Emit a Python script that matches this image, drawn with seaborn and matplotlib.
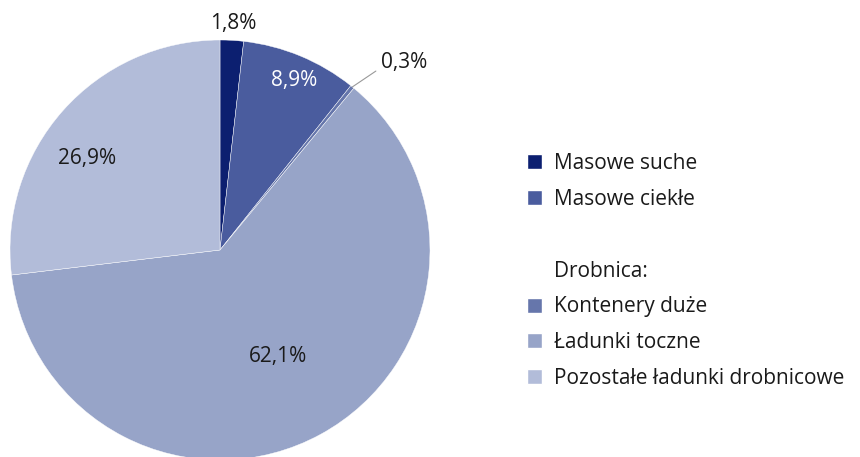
import numpy as np
import matplotlib.pyplot as plt
import seaborn as sns
from matplotlib.patches import Patch

# data
kategorie = ["Masowe suche", "Masowe ciekłe", "Kontenery duże", "Ładunki toczne",
             "Pozostałe ładunki drobnicowe"]
udzial = [1.8, 8.9, 0.3, 62.1, 26.9]
etykiety = ["1,8%", "8,9%", "0,3%", "62,1%", "26,9%"]
kolory = ["#0c1f70", "#4a5c9e", "#6676ab", "#97a4c8", "#b2bcd9"]

sns.set_theme(style="white")
plt.rcParams["font.family"] = ["Open Sans", "DejaVu Sans"]

fig = plt.figure(figsize=(8.6, 4.57), dpi=100)
ax = fig.add_axes([0, 0, 1, 1])

cx, cy, r = 220, 207, 210
wedges, _ = ax.pie(udzial, colors=kolory, startangle=90, counterclock=False,
                   center=(cx, cy), radius=r, frame=True,
                   wedgeprops=dict(edgecolor="white", linewidth=0.3))
ax.set_xlim(0, 860)
ax.set_ylim(0, 457)
ax.set_aspect("equal")
ax.axis("off")

# label placement (distance as fraction of radius, angle offset in degrees)
odl = [1.08, 0.88, 1.25, 0.58, 0.77]
przes = [0, -1, -5.5, 0, 7]
kol_tekstu = ["#1a1a1a", "white", "#1a1a1a", "#1a1a1a", "#1a1a1a"]
for w, lab, d, p, c in zip(wedges, etykiety, odl, przes, kol_tekstu):
    ang = np.deg2rad((w.theta1 + w.theta2) / 2 + p)
    x = cx + d * r * np.cos(ang)
    y = cy + d * r * np.sin(ang)
    ax.text(x, y, lab, ha="center", va="center", fontsize=15, color=c)
    if lab == "0,3%":
        a0 = np.deg2rad((w.theta1 + w.theta2) / 2)
        a1 = a0 + np.deg2rad(-2)
        ax.plot([cx + r * np.cos(a0), cx + 1.13 * r * np.cos(a1)],
                [cy + r * np.sin(a0), cy + 1.13 * r * np.sin(a1)],
                color="#999999", lw=0.8)

pusty = Patch(facecolor="none", edgecolor="none")
uchwyty = [Patch(facecolor=kolory[0]), Patch(facecolor=kolory[1]), pusty, pusty,
           Patch(facecolor=kolory[2]), Patch(facecolor=kolory[3]), Patch(facecolor=kolory[4])]
opisy = [kategorie[0], kategorie[1], "", "Drobnica:", kategorie[2], kategorie[3], kategorie[4]]
leg = ax.legend(uchwyty, opisy, loc="upper left", bbox_to_anchor=(0.603, 0.683),
                frameon=False, fontsize=15, handlelength=0.72, handleheight=0.72,
                handletextpad=0.6, labelspacing=0.71, borderaxespad=0)
for t in leg.get_texts():
    t.set_color("#1a1a1a")

fig.savefig("out.png", dpi=100)
